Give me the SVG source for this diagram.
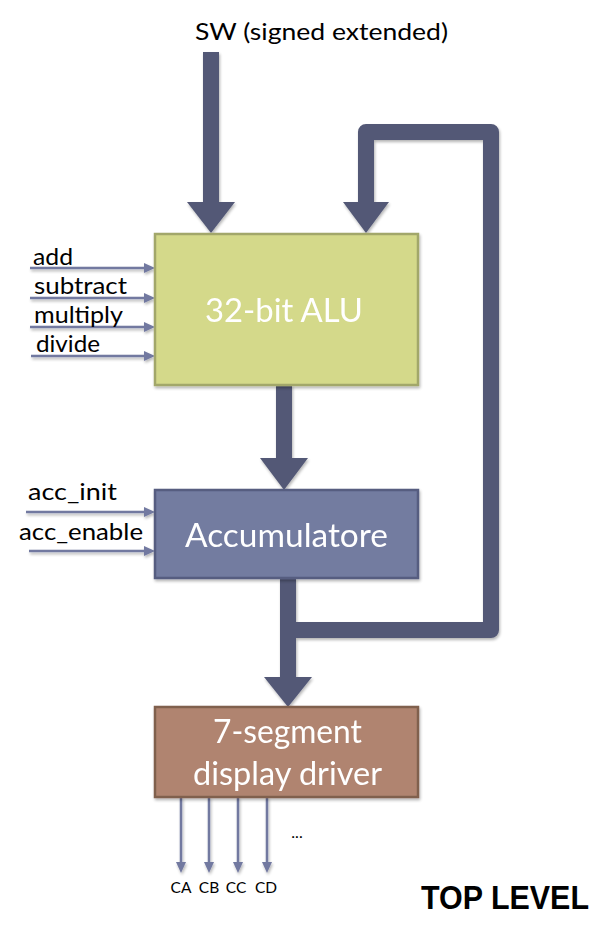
<svg xmlns="http://www.w3.org/2000/svg" width="602" height="926" viewBox="0 0 602 926">
<style>
.lbl{font-family:Lato,"Liberation Sans",sans-serif;font-size:23px;fill:#000}
.box-t{font-family:Lato,"Liberation Sans",sans-serif;font-size:33px;fill:#fff}
.thick{fill:none;stroke:#535876;stroke-width:16;stroke-linejoin:round}
.head{fill:#535876}
.thin{stroke:#7279a0;stroke-width:2.5;fill:none}
.thinhead{fill:#7279a0}
.small{font-family:Lato,"Liberation Sans",sans-serif;font-size:15.5px;fill:#000;text-anchor:middle}
</style>
<defs>
<filter id="sh" x="-10%" y="-10%" width="130%" height="130%">
<feGaussianBlur in="SourceAlpha" stdDeviation="1.5"/>
<feOffset dx="1" dy="2" result="b"/>
<feComponentTransfer><feFuncA type="linear" slope="0.3"/></feComponentTransfer>
<feMerge><feMergeNode/><feMergeNode in="SourceGraphic"/></feMerge>
</filter>
</defs>
<rect width="602" height="926" fill="#fff"/>

<g id="connectors" filter="url(#sh)">
<!-- SW input -->
<path class="thick" d="M211 52 V204"/>
<polygon class="head" points="187,202 235,202 211,233"/>
<!-- ALU to accumulator -->
<path class="thick" d="M284 385 V460"/>
<polygon class="head" points="260,458 308,458 284,490"/>
<!-- accumulator to display + feedback -->
<path class="thick" d="M288 578 V679"/>
<polygon class="head" points="264,677 312,677 288,707"/>
<path class="thick" d="M288 630 H491 V132 H366 V204"/>
<polygon class="head" points="343,202 389,202 366,233"/>
<!-- control inputs -->
<path class="thin" d="M30 268 H146"/><polygon class="thinhead" points="144,263 155,268 144,273"/>
<path class="thin" d="M30 298 H146"/><polygon class="thinhead" points="144,293 155,298 144,303"/>
<path class="thin" d="M30 327 H146"/><polygon class="thinhead" points="144,322 155,327 144,332"/>
<path class="thin" d="M31 356 H146"/><polygon class="thinhead" points="144,351 155,356 144,361"/>
<path class="thin" d="M26 512 H146"/><polygon class="thinhead" points="144,507 155,512 144,517"/>
<path class="thin" d="M29 551 H146"/><polygon class="thinhead" points="144,546 155,551 144,556"/>
<!-- outputs -->
<path class="thin" d="M181 797 V864"/><polygon class="thinhead" points="176,862 181,873 186,862"/>
<path class="thin" d="M209 797 V864"/><polygon class="thinhead" points="204,862 209,873 214,862"/>
<path class="thin" d="M238 797 V864"/><polygon class="thinhead" points="233,862 238,873 243,862"/>
<path class="thin" d="M267 797 V864"/><polygon class="thinhead" points="262,862 267,873 272,862"/>
</g>

<g id="alu" filter="url(#sh)">
<rect x="155" y="234" width="263" height="151" fill="#d4d98a" stroke="#a2a76b" stroke-width="2.5"/>
<text class="box-t" x="205" y="322" textLength="158" lengthAdjust="spacingAndGlyphs">32-bit ALU</text>
</g>
<g id="accumulatore" filter="url(#sh)">
<rect x="155" y="490" width="263" height="88" fill="#737ba0" stroke="#565d80" stroke-width="2.5"/>
<text class="box-t" x="185" y="547" textLength="203" lengthAdjust="spacingAndGlyphs">Accumulatore</text>
</g>
<g id="display-driver" filter="url(#sh)">
<rect x="155" y="707" width="263" height="90" fill="#b08470" stroke="#80604e" stroke-width="2.5"/>
<text class="box-t" x="213" y="743" textLength="149" lengthAdjust="spacingAndGlyphs">7-segment</text>
<text class="box-t" x="193" y="785" textLength="189" lengthAdjust="spacingAndGlyphs">display driver</text>
</g>

<g id="labels">
<text class="lbl" x="195" y="40" font-size="25" textLength="253" lengthAdjust="spacingAndGlyphs">SW (signed extended)</text>
<text class="lbl" x="33" y="265" textLength="40" lengthAdjust="spacingAndGlyphs">add</text>
<text class="lbl" x="34" y="294" textLength="93" lengthAdjust="spacingAndGlyphs">subtract</text>
<text class="lbl" x="34" y="323" textLength="89" lengthAdjust="spacingAndGlyphs">multiply</text>
<text class="lbl" x="36" y="352" textLength="64" lengthAdjust="spacingAndGlyphs">divide</text>
<text class="lbl" x="28" y="500" textLength="89" lengthAdjust="spacingAndGlyphs">acc_init</text>
<text class="lbl" x="19" y="540" textLength="124" lengthAdjust="spacingAndGlyphs">acc_enable</text>
<text class="small" x="181" y="893">CA</text>
<text class="small" x="209" y="893">CB</text>
<text class="small" x="236" y="893">CC</text>
<text class="small" x="266" y="893">CD</text>
<text x="297" y="838" font-family="Lato,'Liberation Sans',sans-serif" font-size="16" text-anchor="middle">...</text>
<text x="421" y="909" font-family="'Liberation Sans',Arial,sans-serif" font-weight="bold" font-size="33" textLength="168" lengthAdjust="spacingAndGlyphs">TOP LEVEL</text>
</g>
</svg>
